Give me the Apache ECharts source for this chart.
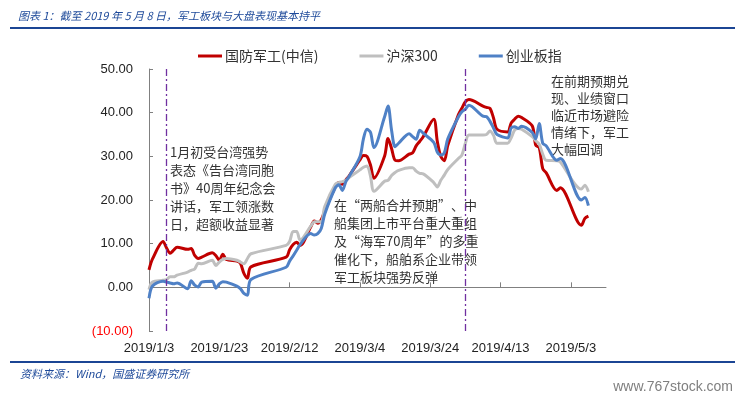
<!DOCTYPE html>
<html>
<head>
<meta charset="utf-8">
<script src="https://cdn.jsdelivr.net/npm/echarts@6/dist/echarts.min.js"></script>
<style>
html,body{margin:0;padding:0;background:#fff;}
#main{width:745px;height:399px;}
</style>
</head>
<body>
<div id="main"></div>
<script>
// trading days, 2019
var dates = [
    '2019-01-03','2019-01-04','2019-01-07','2019-01-08','2019-01-09','2019-01-10','2019-01-11',
    '2019-01-14','2019-01-15','2019-01-16','2019-01-17','2019-01-18',
    '2019-01-21','2019-01-22','2019-01-23','2019-01-24','2019-01-25',
    '2019-01-28','2019-01-29','2019-01-30','2019-01-31','2019-02-01',
    '2019-02-11','2019-02-12','2019-02-13','2019-02-14','2019-02-15',
    '2019-02-18','2019-02-19','2019-02-20','2019-02-21','2019-02-22',
    '2019-02-25','2019-02-26','2019-02-27','2019-02-28','2019-03-01',
    '2019-03-04','2019-03-05','2019-03-06','2019-03-07','2019-03-08',
    '2019-03-11','2019-03-12','2019-03-13','2019-03-14','2019-03-15',
    '2019-03-18','2019-03-19','2019-03-20','2019-03-21','2019-03-22',
    '2019-03-25','2019-03-26','2019-03-27','2019-03-28','2019-03-29',
    '2019-04-01','2019-04-02','2019-04-03','2019-04-04',
    '2019-04-08','2019-04-09','2019-04-10','2019-04-11','2019-04-12',
    '2019-04-15','2019-04-16','2019-04-17','2019-04-18','2019-04-19',
    '2019-04-22','2019-04-23','2019-04-24','2019-04-25','2019-04-26',
    '2019-04-29','2019-04-30',
    '2019-05-06','2019-05-07','2019-05-08'
];
// 国防军工(中信)
var defense = [
    4.0, 6.5, 10.5, 9.0, 7.8, 8.5, 9.2,
    8.7, 8.9, 7.3, 6.6, 6.9,
    7.9, 7.3, 6.2, 7.6, 6.4,
    6.0, 5.5, 3.2, 2.1, 4.7,
    6.9, 8.6, 9.8, 10.3, 9.6,
    13.8, 15.2, 14.7, 15.5, 17.5,
    23.0, 24.0, 23.6, 24.6, 25.6,
    29.2, 30.2, 30.0, 28.0, 25.0,
    30.0, 34.1, 31.8, 29.1, 29.0,
    30.5, 30.8, 32.4, 33.4, 34.5,
    38.5, 33.5, 30.0, 29.0, 32.5,
    39.5, 41.0, 42.5, 43.0,
    41.5, 41.2, 41.0, 38.8, 36.2,
    35.6, 37.6, 38.5, 39.2, 38.9,
    37.0, 32.6, 32.0, 27.2, 26.2,
    22.2, 22.8,
    14.2, 15.8, 16.3
];
// 沪深300
var hs300 = [
    -0.5, 1.2, 1.6, 1.8, 2.4, 2.4, 2.8,
    3.5, 3.9, 4.2, 5.5, 5.4,
    6.2, 5.0, 5.8, 6.4, 6.6,
    6.2, 5.8, 5.4, 6.6, 7.7,
    9.6, 10.5, 12.8, 12.8, 10.8,
    14.0, 15.0, 15.0, 15.0, 18.5,
    23.6, 24.0, 24.2, 24.5, 25.2,
    26.9, 27.5, 27.8, 25.5, 22.0,
    24.3, 24.5, 25.6, 26.3, 26.8,
    27.4, 27.4, 26.6, 26.1, 26.0,
    24.0, 23.0, 24.5, 25.7, 27.0,
    29.5, 30.3, 33.0, 34.9,
    34.9, 35.0, 35.8, 34.8, 33.0,
    33.0, 34.2, 36.0, 36.4, 36.2,
    34.5, 33.6, 32.8, 30.5, 29.1,
    29.0, 28.7,
    22.5, 23.4, 21.9
];
// 创业板指
var chinext = [
    -2.5, 0.3, 1.4, 1.2, 1.0, 0.8, 1.0,
    -0.3, 1.5, 0.5, 0.1, 1.2,
    1.4, -0.2, 0.8, 1.3, 1.2,
    0.3, -0.3, -1.4, -1.8, 1.8,
    4.6, 6.0, 7.2, 8.5, 9.8,
    12.3, 12.0, 12.3, 13.5, 16.8,
    22.8, 23.5, 22.2, 24.2, 25.5,
    29.9, 34.0, 36.2, 35.5, 32.0,
    39.0, 41.5, 36.0, 32.2, 33.0,
    35.2, 34.5, 33.9, 36.0, 35.3,
    33.2, 31.0, 30.3, 30.8, 34.0,
    39.0, 40.2, 40.8, 41.7,
    39.2, 39.1, 38.0, 36.5, 35.0,
    34.2, 36.5, 36.8, 36.4, 36.9,
    35.5, 34.0, 37.5, 33.0, 32.4,
    29.1, 29.5,
    20.0, 20.6, 18.7
];
var seriesNames = ['国防军工(中信)', '沪深300', '创业板指'];
var seriesColors = ['#C00000', '#BFBFBF', '#4F81C6'];
var tickDates = ['2019-01-03','2019-01-23','2019-02-12','2019-03-04','2019-03-24','2019-04-13','2019-05-03'];
var eventDates = ['2019-01-08', '2019-04-03'];
var startDate = '2019-01-03';
var endDate = '2019-05-13';

var DAY = 86400000;
function dayOf(d) {
    return (Date.parse(d) - Date.parse(startDate)) / DAY;
}
function dateLabel(v) {
    var t = new Date(Date.parse(startDate) + Math.round(v) * DAY);
    return t.getUTCFullYear() + '/' + (t.getUTCMonth() + 1) + '/' + t.getUTCDate();
}
function pairs(vals) {
    return dates.map(function (d, i) { return [dayOf(d), vals[i]]; });
}

var tickDays = tickDates.map(dayOf);
var cjk = '"Noto Sans CJK SC", sans-serif';
var blue = '#1B4594';

var myChart = echarts.init(document.getElementById('main'));
var allData = [defense, hs300, chinext];
var series = seriesNames.map(function (name, i) {
    var s = {
        name: name,
        type: 'line',
        data: pairs(allData[i]),
        smooth: 0.3,
        symbol: 'none',
        lineStyle: { color: seriesColors[i], width: 3 },
        itemStyle: { color: seriesColors[i] },
        animation: false
    };
    if (i === 0) {
        s.markLine = {
            silent: true,
            symbol: 'none',
            label: { show: false },
            lineStyle: { color: '#7030A0', width: 1.3, type: [7, 3, 2, 3] },
            data: eventDates.map(function (d) { return { xAxis: dayOf(d) }; })
        };
    }
    return s;
});

var option = {
    backgroundColor: '#fff',
    animation: false,
    grid: { left: 149, right: 139, top: 69, bottom: 68 },
    legend: {
        data: seriesNames,
        left: 193,
        top: 44,
        icon: 'rect',
        itemWidth: 24,
        itemHeight: 3,
        itemGap: 41,
        textStyle: { fontSize: 14, color: '#333', fontFamily: cjk, padding: [0, 0, 0, -2] }
    },
    xAxis: {
        type: 'value',
        min: 0,
        max: dayOf(endDate),
        axisLine: { onZero: true, lineStyle: { color: '#808080', width: 1 } },
        axisTick: { inside: true, length: 5, customValues: tickDays, lineStyle: { color: '#808080' } },
        axisLabel: {
            customValues: tickDays,
            margin: 11,
            fontSize: 13,
            color: '#222',
            fontFamily: '"Liberation Sans", Arial, sans-serif',
            formatter: dateLabel
        },
        splitLine: { show: false }
    },
    yAxis: {
        type: 'value',
        min: -10,
        max: 50,
        interval: 10,
        axisLine: { show: true, lineStyle: { color: '#808080', width: 1 } },
        axisTick: { show: true, inside: true, length: 4, lineStyle: { color: '#808080' } },
        axisLabel: {
            margin: 16,
            fontSize: 13,
            fontFamily: '"Liberation Sans", Arial, sans-serif',
            color: function (v) { return v < 0 ? '#FF0000' : '#222'; },
            formatter: function (v) {
                return v < 0 ? '(' + Math.abs(v).toFixed(2) + ')' : v.toFixed(2);
            }
        },
        splitLine: { show: false }
    },
    graphic: [
        { type: 'rect', shape: { x: 10, y: 27, width: 725, height: 2 }, style: { fill: blue }, silent: true },
        { type: 'rect', shape: { x: 10, y: 361, width: 725, height: 2 }, style: { fill: blue }, silent: true },
        {
            type: 'text',
            style: {
                x: 18, y: 16, textVerticalAlign: 'middle',
                text: '图表 1：截至 2019 年 5 月 8 日，军工板块与大盘表现基本持平',
                fill: '#1E4A9A', fontSize: 11, fontStyle: 'italic', fontFamily: cjk
            }
        },
        {
            type: 'text',
            style: {
                x: 20, y: 374, textVerticalAlign: 'middle',
                text: '资料来源：Wind，国盛证券研究所',
                fill: '#1E4A9A', fontSize: 11, fontStyle: 'italic', fontFamily: cjk
            }
        },
        {
            type: 'text',
            style: {
                x: 733, y: 387, textAlign: 'right', textVerticalAlign: 'middle',
                text: 'www.767stock.com',
                fill: '#7F7F7F', fontSize: 14, fontFamily: '"Liberation Sans", Arial, sans-serif'
            }
        },
        {
            type: 'text',
            style: {
                x: 170, y: 143, textVerticalAlign: 'top', lineHeight: 18,
                text: '1月初受台湾强势\n表态《告台湾同胞\n书》40周年纪念会\n讲话，军工领涨数\n日，超额收益显著',
                fill: '#333', fontSize: 13, fontFamily: cjk
            }
        },
        {
            type: 'text',
            style: {
                x: 334, y: 196, textVerticalAlign: 'top', lineHeight: 18,
                text: '在“两船合并预期”、中\n船集团上市平台重大重组\n及“海军70周年”的多重\n催化下，船舶系企业带领\n军工板块强势反弹',
                fill: '#333', fontSize: 13, fontFamily: cjk
            }
        },
        {
            type: 'text',
            style: {
                x: 551, y: 73, textVerticalAlign: 'top', lineHeight: 17,
                text: '在前期预期兑\n现、业绩窗口\n临近市场避险\n情绪下，军工\n大幅回调',
                fill: '#333', fontSize: 13, fontFamily: cjk
            }
        }
    ],
    series: series
};
myChart.setOption(option);
</script>
</body>
</html>
